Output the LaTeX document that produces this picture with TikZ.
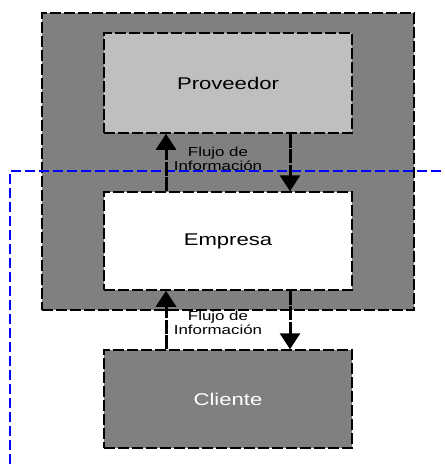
\documentclass[tikz,border=0pt]{standalone}
\usepackage{fontspec}
\setmainfont{Liberation Sans}
\newfontfamily\boxfont[FakeStretch=1.3]{Liberation Sans}
\usetikzlibrary{arrows.meta}
\begin{document}
\begin{tikzpicture}[x=1pt, y=-1pt,
	party/.style={draw, line width=1.5pt, dash pattern=on 11pt off 3pt, minimum width=248pt, minimum height=98pt, inner sep=0pt, font=\boxfont\fontsize{17}{20}\selectfont},
	flow/.style={line width=3pt, dash pattern=on 14pt off 1.5pt, -{Triangle[width=20pt,length=16pt]}},
	flowlabel/.style={align=center, inner sep=0pt, font=\boxfont\fontsize{13}{14.5}\selectfont}]
%	\draw[help lines] (0,0) grid (445,464);
	\useasboundingbox (0,0) rectangle (445,464);
	\node[draw, fill=black!50, line width=1.5pt, dash pattern=on 11pt off 3pt, minimum width=372pt, minimum height=297pt] (chain) at (228, 161.5) {};
	\node[party, fill=black!25, minimum height=100pt] (prov) at (228, 83) {Proveedor};
	\node[party, fill=white] (emp) at (228, 241) {Empresa};
	\node[party, fill=black!50, text=white] (cli) at (228, 399) {Cliente};
	\node[flowlabel] (info1) at (218, 159) {Flujo de\\Información};
	\node[flowlabel] (info2) at (218, 323) {Flujo de\\Información};
	\coordinate (b0) at (10, 464);
	\coordinate (b1) at (10, 171);
	\coordinate (b2) at (445, 171);
	\draw[blue, line width=1.5pt, dash pattern=on 10pt off 4pt] (b0) -- (b1) -- (b2);
	\draw[flow] ([xshift=-62pt]emp.north) -- ([xshift=-62pt]prov.south);
	\draw[flow] ([xshift=62pt]prov.south) -- ([xshift=62pt]emp.north);
	\draw[flow] ([xshift=-62pt]cli.north) -- ([xshift=-62pt]emp.south);
	\draw[flow] ([xshift=62pt]emp.south) -- ([xshift=62pt]cli.north);
\end{tikzpicture}
\end{document}
